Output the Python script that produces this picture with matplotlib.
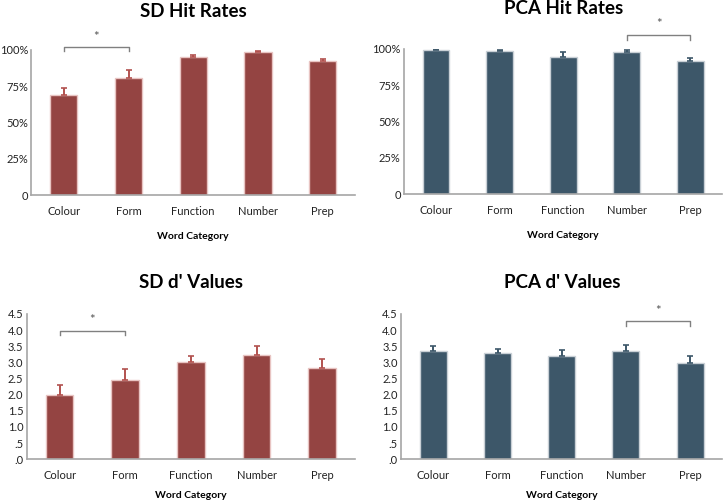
import numpy as np
import matplotlib.pyplot as plt

# -----------------------------
# Data
# -----------------------------

categories = ["Colour", "Form", "Function", "Number", "Prep"]

sd_hit = [0.686, 0.803, 0.954, 0.984, 0.922]
sd_hit_err = [0.050, 0.059, 0.012, 0.009, 0.018]

pca_hit = [0.993, 0.984, 0.947, 0.977, 0.917]
pca_hit_err = [0.006, 0.007, 0.030, 0.012, 0.021]

sd_dprime = [1.99, 2.46, 3.00, 3.22, 2.82]
sd_dprime_err = [0.30, 0.32, 0.21, 0.28, 0.30]

pca_dprime = [3.35, 3.29, 3.20, 3.35, 2.99]
pca_dprime_err = [0.17, 0.11, 0.18, 0.20, 0.21]

hit_ticks = [0, 0.25, 0.5, 0.75, 1.0]
hit_labels = ["0", "25%", "50%", "75%", "100%"]
d_ticks = [0, 0.5, 1.0, 1.5, 2.0, 2.5, 3.0, 3.5, 4.0, 4.5]
d_labels = [".0", ".5", "1.0", "1.5", "2.0", "2.5", "3.0", "3.5", "4.0", "4.5"]

# -----------------------------
# Style
# -----------------------------

plt.rcParams["font.family"] = ["Lato", "DejaVu Sans"]

SD_COLOR = "#944442"
SD_EDGE = "#e8c4c2"
SD_ERR = "#b2524f"
PCA_COLOR = "#3d5769"
PCA_EDGE = "#c9d0d6"
PCA_ERR = "#3d5769"
SPINE = "#a6a6a6"

fig = plt.figure(figsize=(7.23, 5.04), dpi=100)

ax_sd_hit = fig.add_axes([0.0435, 0.613, 0.4475, 0.288])
ax_pca_hit = fig.add_axes([0.559, 0.615, 0.440, 0.288])
ax_sd_d = fig.add_axes([0.037, 0.089, 0.454, 0.288])
ax_pca_d = fig.add_axes([0.555, 0.089, 0.444, 0.288])


def draw_panel(ax, values, errors, color, edge, errcolor, title, title_y,
               ticks, labels, ymax, pair, bracket_y, tip, star_y, label_y):

    x = np.arange(len(categories))

    ax.bar(x, values, width=0.42, color=color, edgecolor=edge,
           linewidth=1.0, zorder=2)

    ax.errorbar(x, values, yerr=[np.zeros(len(values)), errors],
                fmt="none", ecolor=errcolor, elinewidth=1.4,
                capsize=2.5, capthick=1.2, zorder=3)

    ax.set_xlim(-0.5, len(categories) - 0.5)
    ax.set_ylim(0, ymax)
    ax.set_xticks(x)
    ax.set_xticklabels(categories, fontsize=8)
    ax.set_yticks(ticks)
    ax.set_yticklabels(labels, fontsize=8)
    ax.tick_params(axis="x", length=0, pad=8, colors="#222222")
    ax.tick_params(axis="y", length=0, pad=2.5, colors="#222222")

    for side in ["top", "right"]:
        ax.spines[side].set_visible(False)
    for side in ["left", "bottom"]:
        ax.spines[side].set_color(SPINE)
        ax.spines[side].set_linewidth(1.2)

    # significance bracket
    a, b = pair
    ax.plot([a, a, b, b], [bracket_y - tip, bracket_y, bracket_y, bracket_y - tip],
            color="#808080", linewidth=1.0, clip_on=False)
    ax.text((a + b) / 2, star_y, "*", ha="center", va="center",
            fontsize=9.5, color="#555555")

    ax.text(0.5, title_y, title, transform=ax.transAxes, ha="center",
            va="center", fontsize=13.5, fontweight="bold")
    ax.text(0.5, label_y, "Word Category", transform=ax.transAxes,
            ha="center", va="center", fontsize=7.5, fontweight="bold")


draw_panel(ax_sd_hit, sd_hit, sd_hit_err, SD_COLOR, SD_EDGE, SD_ERR,
           "SD Hit Rates", 1.265, hit_ticks, hit_labels, 1.0,
           (0, 1), 1.023, 0.033, 1.09, -0.285)

draw_panel(ax_pca_hit, pca_hit, pca_hit_err, PCA_COLOR, PCA_EDGE, PCA_ERR,
           "PCA Hit Rates", 1.28, hit_ticks, hit_labels, 1.0,
           (3, 4), 1.097, 0.037, 1.17, -0.285)

draw_panel(ax_sd_d, sd_dprime, sd_dprime_err, SD_COLOR, SD_EDGE, SD_ERR,
           "SD d' Values", 1.22, d_ticks, d_labels, 4.5,
           (0, 1), 3.98, 0.14, 4.3, -0.25)

draw_panel(ax_pca_d, pca_dprime, pca_dprime_err, PCA_COLOR, PCA_EDGE, PCA_ERR,
           "PCA d' Values", 1.22, d_ticks, d_labels, 4.5,
           (3, 4), 4.27, 0.15, 4.58, -0.25)

fig.savefig("out.png", dpi=100)
